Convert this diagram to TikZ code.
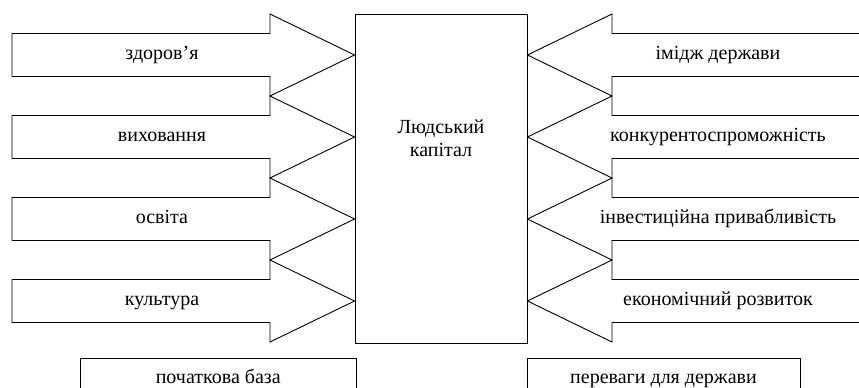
\documentclass[tikz,border=0pt]{standalone}
\usepackage{fontspec}
\setmainfont{Liberation Serif}
\begin{document}
\begin{tikzpicture}[x=1pt,y=-1pt,
  outline/.style={draw=black,line width=0.9pt,line join=miter},
  lbl/.style={font=\fontsize{20}{24}\selectfont,inner sep=0pt,text=black,anchor=base},
  bottombox/.style={draw=black,line width=0.9pt,inner sep=0pt}]
\useasboundingbox (0,0) rectangle (859,388);
\begin{scope}
\clip (0,0) rectangle (859,388);
% central box
\node[outline,minimum width=172pt,minimum height=329pt,inner sep=0pt] (hc) at (441,178.5) {};
\node[lbl] (hc1) at (441,133.3) {Людський};
\node[lbl] (hc2) at (441,156.7) {капітал};
% arrows
\foreach \i in {0,1,2,3}{
  \pgfmathsetmacro{\ty}{55+82*\i}
  \draw[outline] (12,\ty-21.5) -- (270,\ty-21.5) -- (270,\ty-41) -- (hc.west |- 0,\ty)
     -- (270,\ty+41) -- (270,\ty+21.5) -- (12,\ty+21.5) -- cycle;
  \draw[outline] (870,\ty-21.5) -- (612,\ty-21.5) -- (612,\ty-41) -- (hc.east |- 0,\ty)
     -- (612,\ty+41) -- (612,\ty+21.5) -- (870,\ty+21.5);
}
\node[lbl] (l1) at (162,59.5) {здоров’я};
\node[lbl] (l2) at (162,141.5) {виховання};
\node[lbl] (l3) at (162,223.5) {освіта};
\node[lbl] (l4) at (162,305.5) {культура};
\node[lbl] (r1) at (718,59.5) {імідж держави};
\node[lbl] (r2) at (718,141.5) {конкурентоспроможність};
\node[lbl] (r3) at (718,223.5) {інвестиційна привабливість};
\node[lbl] (r4) at (718,305.5) {економічний розвиток};
% bottom boxes
\node[bottombox,minimum width=275.5pt,minimum height=42pt] (base) at (218.25,379) {};
\node[bottombox,minimum width=273pt,minimum height=42pt] (adv) at (663.5,379) {};
\node[lbl] (baset) at (base.center |- 0,383.3) {початкова база};
\node[lbl] (advt) at (adv.center |- 0,383.3) {переваги для держави};
\end{scope}
\end{tikzpicture}
\end{document}
